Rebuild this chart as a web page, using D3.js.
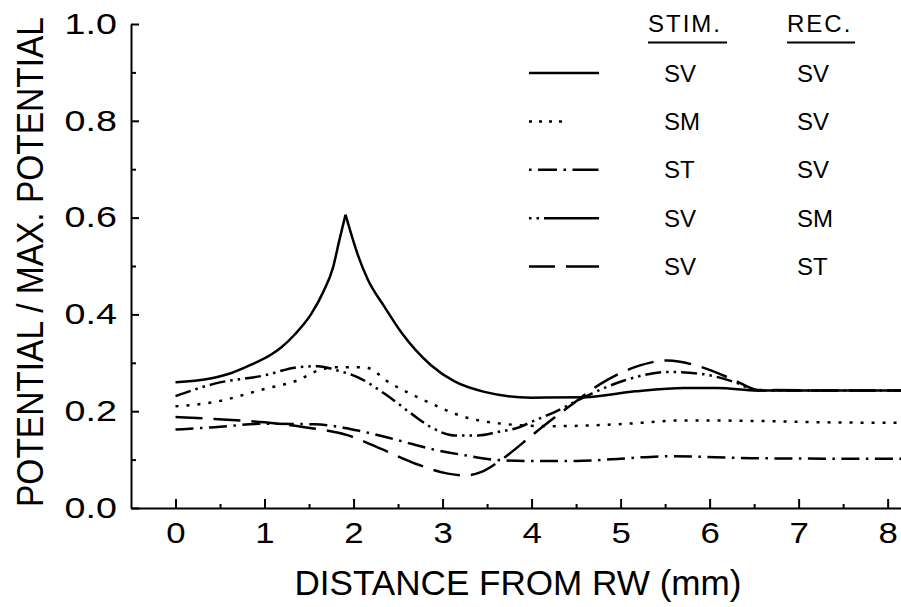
<!DOCTYPE html>
<html>
<head>
<meta charset="utf-8">
<script src="https://cdnjs.cloudflare.com/ajax/libs/d3/7.8.5/d3.min.js"></script>
<style>
body { margin: 0; background: #fff; }
svg text { font-family: "Liberation Sans", Arial, sans-serif; fill: #000; }
</style>
</head>
<body>
<div id="chart"></div>
<script>
// [distance from RW (mm), potential / max potential]
var sv_sv = [[0,0.26],[0.375,0.267],[0.63,0.279],[0.85,0.296],[1.075,0.317],[1.19,0.332],[1.337,0.358],
    [1.525,0.401],[1.656,0.445],[1.77,0.497],[1.84,0.553],[1.91,0.606],[2.05,0.522],[2.16,0.472],[2.35,0.415],
    [2.54,0.362],[2.87,0.295],[3.13,0.262],[3.47,0.24],[4.0,0.228],[4.6,0.229],[5.16,0.241],[5.72,0.248],
    [6.09,0.248],[6.54,0.243],[7.2,0.243],[8.15,0.243]];
var sm_sv = [[0,0.21],[0.44,0.219],[1.0,0.246],[1.375,0.264],[1.6,0.284],[1.82,0.291],[2.12,0.291],
    [2.42,0.257],[2.8,0.222],[3.25,0.188],[3.62,0.175],[4.22,0.169],[4.97,0.173],[5.72,0.181],[6.47,0.18],
    [7.3,0.177],[8.15,0.176]];
var st_sv = [[0,0.162],[0.44,0.167],[1.0,0.174],[1.56,0.173],[2.05,0.16],[2.5,0.14],[2.87,0.122],
    [3.25,0.109],[3.62,0.099],[4.0,0.097],[4.5,0.097],[5.0,0.102],[5.53,0.107],[6.47,0.103],[7.3,0.102],
    [8.15,0.102]];
var sv_sm = [[0,0.231],[0.44,0.257],[1.0,0.274],[1.375,0.291],[1.6,0.293],[1.82,0.284],[2.05,0.27],
    [2.35,0.236],[2.65,0.195],[2.87,0.167],[3.13,0.15],[3.4,0.15],[3.62,0.157],[3.85,0.166],[4.0,0.178],
    [4.22,0.195],[4.67,0.236],[5.05,0.264],[5.53,0.281],[5.91,0.277],[6.28,0.26],[6.54,0.243],[7.2,0.243],
    [8.15,0.243]];
var sv_st = [[0,0.188],[0.44,0.184],[1.0,0.177],[1.45,0.167],[1.94,0.15],[2.31,0.122],[2.69,0.092],
    [3.06,0.071],[3.25,0.067],[3.43,0.074],[3.7,0.105],[4.03,0.154],[4.41,0.208],[4.78,0.257],[5.16,0.291],
    [5.53,0.305],[5.91,0.291],[6.28,0.264],[6.54,0.244],[7.2,0.243],[8.15,0.243]];

var stimLabels = ["SV", "SM", "ST", "SV", "SV"];
var recLabels = ["SV", "SV", "SV", "SM", "ST"];
var xTicks = [0, 1, 2, 3, 4, 5, 6, 7, 8];
var yTicks = [0, 0.2, 0.4, 0.6, 0.8, 1.0];

var series = [
    { data: sv_sv, dash: null, legendDash: null, sample: 70, cusp: true },
    { data: sm_sv, dash: "3,8", legendDash: "3,7", sample: 33 },
    { data: st_sv, dash: "18,6.5,2.5,6.5", legendDash: "2.5,6.5,19,6.5,2.5,6.5,26", sample: 70 },
    { data: sv_sm, dash: "16,5,2.5,5,2.5,5", legendDash: "2.5,5,2.5,5,60", sample: 70 },
    { data: sv_st, dash: "27,11", legendDash: "26,11,40", sample: 70 }
];

var margin = { top: 24, right: 0, bottom: 99, left: 131 };
var width = 901 - margin.left - margin.right;
var height = 607 - margin.top - margin.bottom;

var svg = d3.select("#chart")
    .append("svg")
    .attr("width", 901)
    .attr("height", 607);

var g = svg.append("g")
    .attr("transform", "translate(" + margin.left + "," + margin.top + ")");

var x = d3.scaleLinear().domain([-0.5, 8.15]).range([0, width]);
var y = d3.scaleLinear().domain([0, 1]).range([height, 0]);

// minor ticks
g.append("g")
    .attr("transform", "translate(0," + height + ")")
    .call(d3.axisBottom(x).tickValues(d3.range(0.5, 8, 1)).tickSize(-4).tickFormat(""))
    .call(function (a) { a.select(".domain").remove(); })
    .selectAll("line").attr("stroke-width", 2);
g.append("g")
    .call(d3.axisLeft(y).tickValues([0.1, 0.3, 0.5, 0.7, 0.9]).tickSize(-5).tickFormat(""))
    .call(function (a) { a.select(".domain").remove(); })
    .selectAll("line").attr("stroke-width", 2);

// x axis
var xa = g.append("g")
    .attr("transform", "translate(0," + height + ")")
    .call(d3.axisBottom(x).tickValues(xTicks).tickSize(-9).tickSizeOuter(0).tickPadding(14));
xa.attr("font-size", 29).attr("font-family", null);
xa.select(".domain").attr("stroke-width", 2);
xa.selectAll("line").attr("stroke-width", 2);
xa.selectAll("text").attr("transform", "scale(1.2,1)");

// y axis
var ya = g.append("g")
    .call(d3.axisLeft(y).tickValues(yTicks).tickSize(-8).tickSizeOuter(0).tickPadding(14)
        .tickFormat(d3.format(".1f")));
ya.attr("font-size", 29).attr("font-family", null);
ya.select(".domain").attr("stroke-width", 2);
ya.selectAll("line").attr("stroke-width", 2);
ya.selectAll("text").attr("x", -14 / 1.3).attr("transform", "scale(1.3,1)");

// curves
var line = d3.line()
    .x(function (d) { return x(d[0]); })
    .y(function (d) { return y(d[1]); })
    .curve(d3.curveMonotoneX);

series.forEach(function (s) {
    // the SV/SV curve has a sharp peak: draw it as two pieces meeting at the max
    var pieces = [s.data];
    if (s.cusp) {
        var k = d3.maxIndex(s.data, function (d) { return d[1]; });
        pieces = [s.data.slice(0, k + 1), s.data.slice(k)];
    }
    pieces.forEach(function (p) {
        g.append("path")
            .datum(p)
            .attr("fill", "none")
            .attr("stroke", "#000")
            .attr("stroke-width", 2.5)
            .attr("stroke-dasharray", s.dash)
            .attr("d", line);
    });
});

// axis titles
svg.append("text")
    .attr("x", 518)
    .attr("y", 595)
    .attr("text-anchor", "middle")
    .attr("font-size", 35)
    .attr("textLength", 447)
    .attr("lengthAdjust", "spacingAndGlyphs")
    .text("DISTANCE FROM RW (mm)");

svg.append("text")
    .attr("transform", "translate(43,262) rotate(-90) scale(1,1.12)")
    .attr("text-anchor", "middle")
    .attr("font-size", 33)
    .attr("textLength", 490)
    .attr("lengthAdjust", "spacingAndGlyphs")
    .text("POTENTIAL / MAX. POTENTIAL");

// legend
var legend = svg.append("g");
var heads = [{ t: "STIM.", x: 648, w: 79 }, { t: "REC.", x: 787, w: 68 }];
heads.forEach(function (h) {
    legend.append("text")
        .attr("x", h.x)
        .attr("y", 32)
        .attr("font-size", 24)
        .attr("letter-spacing", 2)
        .text(h.t);
    legend.append("line")
        .attr("x1", h.x).attr("x2", h.x + h.w)
        .attr("y1", 42.5).attr("y2", 42.5)
        .attr("stroke", "#000").attr("stroke-width", 2);
});

series.forEach(function (s, i) {
    var ry = 73 + i * 48.4;
    legend.append("line")
        .attr("x1", 529).attr("x2", 529 + s.sample)
        .attr("y1", ry).attr("y2", ry)
        .attr("stroke", "#000")
        .attr("stroke-width", 2.5)
        .attr("stroke-dasharray", s.legendDash);
    legend.append("text")
        .attr("x", 664).attr("y", ry + 8.5)
        .attr("font-size", 24)
        .text(stimLabels[i]);
    legend.append("text")
        .attr("x", 797).attr("y", ry + 8.5)
        .attr("font-size", 24)
        .text(recLabels[i]);
});
</script>
</body>
</html>
